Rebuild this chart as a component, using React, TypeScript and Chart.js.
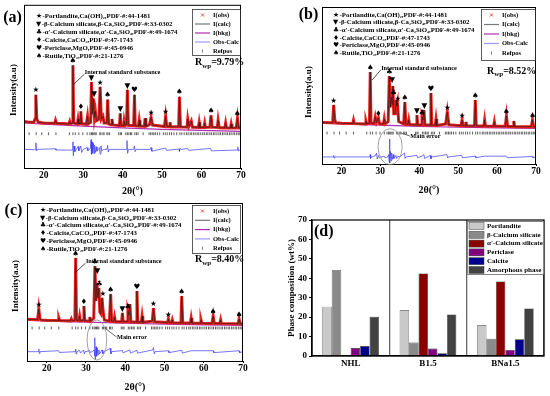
import React, { useEffect, useRef } from 'react';
import { Chart, registerables } from 'chart.js';
Chart.register(...registerables);

const SERIF = "'Liberation Serif', 'Times New Roman', serif";
const SYM = "'DejaVu Sans', sans-serif";

// ---------- shared XRD data ----------
const xTicks = [20, 30, 40, 50, 60, 70];
const phaseSymbols = ['★', '▼', '♣', '♦', '♥', '♠'];
const phaseLines = [
  '-Portlandite,Ca(OH)₂,PDF-#:44-1481',
  '-β-Calcium silicate,β-Ca₂SiO₄,PDF-#:33-0302',
  "-α'-Calcium silicate,α'-Ca₂SiO₄,PDF-#:49-1674",
  '-Calcite,CaCO₃,PDF-#:47-1743',
  '-Periclase,MgO,PDF-#:45-0946',
  '-Rutile,TiO₂,PDF-#:21-1276',
];
const xrdLegend = ['I(obs)', 'I(calc)', 'I(bkg)', 'Obs-Calc', 'Refpos'];
const refpos = [16.3, 18.1, 19.5, 21.2, 23.1, 26.5, 27.4, 28.0, 28.9, 29.9, 31.0, 31.7, 32.1, 32.4, 32.7, 33.0, 33.3, 34.2, 34.5, 35.0, 35.3, 36.0, 36.3, 36.7, 39.0, 39.4, 39.7, 40.8, 41.2, 41.6, 42.0, 42.3, 43.1, 43.5, 43.9, 45.2, 46.7, 47.1, 47.5, 47.9, 48.3, 48.8, 49.4, 50.3, 50.8, 51.3, 51.9, 52.4, 53.0, 53.7, 54.5, 55.0, 55.6, 56.2, 56.6, 57.1, 57.5, 58.0, 58.4, 58.9, 59.3, 59.8, 60.3, 60.7, 61.2, 61.6, 62.1, 62.5, 63.0, 63.4, 63.9, 64.4, 64.8, 65.3, 65.7, 66.2, 66.6, 67.1, 67.5, 68.0, 68.4, 68.9, 69.3, 69.7];

// ---------- panel (a) ----------
const obsA: [number, number][] = [[15, 28.5], [16, 28.2], [17.5, 28.0], [17.8, 30], [18.0, 44.9], [18.25, 30], [18.6, 28], [20, 27.6], [22.8, 27.4], [23.0, 29.3], [23.3, 27.3], [25, 27.2], [26.4, 27], [26.6, 28.5], [26.8, 27], [27.2, 27.5], [27.4, 62.9], [27.6, 27.5], [28.5, 27], [28.7, 30], [28.9, 27], [29.2, 27.3], [29.4, 34.7], [29.6, 27.2], [30.8, 26.8], [31.1, 31.7], [31.3, 27], [31.9, 28], [32.1, 52.7], [32.35, 33], [32.6, 42.5], [32.85, 31], [33.1, 34.7], [33.35, 29], [34.0, 30], [34.3, 49.7], [34.6, 30], [35.0, 31.7], [35.3, 27.5], [36.0, 27.5], [36.2, 41.9], [36.45, 27], [37.1, 26.5], [37.3, 30], [37.5, 26.4], [39.2, 26], [39.4, 33.5], [39.6, 26], [40.3, 26], [40.4, 28.7], [40.6, 26], [41.0, 26.5], [41.2, 47.9], [41.45, 26.2], [42.8, 26], [43.0, 44.9], [43.2, 25.8], [44.0, 25.7], [44.2, 29.3], [44.4, 25.7], [45.5, 25.6], [45.7, 30.5], [45.9, 25.6], [46.8, 26.5], [47.2, 31], [47.6, 26.3], [50.6, 25.4], [50.9, 31.7], [51.2, 25.4], [51.8, 25.3], [52.0, 28], [52.2, 25.2], [54.2, 25.3], [54.4, 43.7], [54.65, 25.2], [56.3, 25], [56.5, 30], [56.8, 25.5], [57.4, 28.7], [57.7, 25], [59.2, 24.9], [59.4, 28], [59.6, 24.9], [60.6, 24.8], [60.8, 27.5], [61.0, 24.8], [62.1, 25], [62.4, 32.3], [62.7, 25], [64.0, 24.8], [64.2, 29.3], [64.5, 24.7], [65.9, 24.6], [66.1, 27.5], [66.3, 24.6], [67.3, 24.5], [67.5, 27], [67.7, 24.5], [68.8, 24.6], [69.1, 30.5], [69.4, 24.5], [70, 24.5]];
const bkgA: [number, number][] = [[15, 27.6], [20, 26.8], [30, 25.6], [40, 24.6], [50, 23.7], [60, 23.0], [70, 22.4]];
const diffA: [number, number][] = [[15, 11.4], [17.8, 11.2], [18.0, 15.4], [18.2, 10.5], [18.4, 11.4], [23, 11.8], [23.1, 11], [27.2, 11], [27.4, 16], [27.5, 7.5], [27.7, 13.5], [27.9, 10], [28.3, 11.5], [28.7, 13.2], [28.9, 10.5], [29.4, 13.5], [29.6, 9.5], [30, 11.4], [31, 12.5], [31.2, 10.5], [31.8, 12], [32.0, 17.4], [32.1, 8.4], [32.25, 16], [32.4, 9], [32.6, 15], [32.75, 8.8], [32.9, 14], [33.1, 9.5], [33.3, 13], [33.5, 10.3], [34.1, 12.5], [34.3, 8.5], [34.5, 13.5], [34.7, 10.5], [35.2, 11.4], [36.0, 11.4], [36.2, 13.8], [36.35, 9.8], [36.6, 11.4], [40.9, 11.4], [41.1, 16.8], [41.25, 9], [41.5, 11.4], [42.8, 11.4], [43.0, 13.5], [43.15, 10], [43.4, 11.4], [47.0, 11.4], [47.2, 12.5], [47.4, 10.3], [50.9, 12.2], [51.1, 10.8], [54.3, 11.6], [54.4, 10.2], [54.55, 12.1], [54.8, 11.4], [56.5, 12], [56.7, 10.8], [62.3, 12], [62.5, 10.5], [69.0, 11], [69.2, 12.8], [69.35, 10.5], [70, 11.4]];
const markersA: [number, number, number][] = [[0, 18.0, 44.9], [5, 27.4, 62.9], [3, 29.4, 34.7], [1, 32.1, 52.7], [1, 32.8, 42.5], [0, 34.3, 49.7], [5, 36.2, 41.9], [1, 39.4, 33.5], [1, 41.2, 47.9], [4, 43.0, 44.9], [0, 47.2, 31], [0, 50.9, 31.7], [5, 54.4, 43.7], [5, 62.4, 32.3], [5, 69.1, 30.5]];

// ---------- panel (b) ----------
const obsB: [number, number][] = [[15, 26.4], [17.6, 26.2], [17.8, 29], [18.0, 37.6], [18.25, 29], [18.5, 26.2], [20, 25.9], [22.9, 25.8], [23.1, 28], [23.3, 25.8], [26.1, 25.5], [26.3, 27.4], [26.5, 25.5], [27.2, 26], [27.4, 58.6], [27.6, 26], [28.4, 25.8], [28.7, 30], [29.0, 26.5], [29.5, 29.3], [29.8, 25.6], [30.8, 25.5], [31.0, 28.7], [31.2, 25.5], [32.0, 27], [32.3, 56], [32.55, 36], [32.8, 42.7], [33.0, 38], [33.2, 49.7], [33.45, 32], [33.8, 32], [34.1, 40.8], [34.25, 37], [34.4, 38.9], [34.7, 27], [36.0, 25.5], [36.3, 39.5], [36.55, 25.3], [37.1, 25.2], [37.3, 28], [37.5, 25.1], [39.2, 25], [39.4, 31.2], [39.6, 24.9], [40.5, 25], [40.7, 30], [40.95, 28], [41.2, 34.4], [41.45, 25], [42.8, 24.8], [43.0, 45.2], [43.2, 24.8], [44.1, 24.7], [44.3, 28.7], [44.5, 24.6], [46.8, 25.5], [47.2, 33.1], [47.6, 25], [50.7, 24.4], [51.0, 28], [51.3, 24.3], [51.8, 24.3], [52.0, 26.8], [52.2, 24.3], [54.2, 24.2], [54.4, 40.8], [54.65, 24.2], [56.6, 24.2], [56.8, 28], [57.0, 24.2], [59.1, 24], [59.3, 26.8], [59.5, 24], [62.1, 24], [62.4, 30.6], [62.7, 23.9], [64.1, 23.9], [64.3, 27.4], [64.5, 23.8], [68.8, 23.8], [69.1, 28], [69.4, 23.7], [70, 23.7]];
const bkgB: [number, number][] = [[15, 26.0], [20, 25.5], [30, 24.8], [40, 24.0], [50, 23.4], [60, 23.0], [70, 22.7]];
const diffB: [number, number][] = [[15, 4.5], [17.9, 4.5], [18.0, 5.5], [18.15, 3.8], [18.3, 4.5], [27.3, 4.5], [27.4, 6], [27.5, 3.5], [27.7, 4.5], [28.7, 5.2], [29.0, 7], [29.2, 3.2], [29.5, 5.5], [29.7, 4], [31.0, 5], [31.2, 4], [31.9, 4.5], [32.1, 6], [32.25, 2], [32.35, 15.9], [32.45, 0.6], [32.6, 8], [32.75, 2], [32.9, 7], [33.1, 3], [33.3, 6], [33.5, 3.5], [34.0, 5.5], [34.2, 3.5], [34.5, 5], [35, 4.5], [36.2, 7], [36.35, 3.5], [36.6, 4.5], [39.4, 5.5], [39.55, 4], [40.7, 5], [41.2, 6], [41.35, 3.6], [42.9, 5.5], [43.0, 3.2], [43.15, 5], [43.3, 4.5], [47.1, 6], [47.3, 3.8], [47.5, 4.5], [50.9, 5.5], [51.1, 4], [54.4, 5], [54.55, 4], [56.8, 5], [62.4, 5], [62.6, 4], [69, 4.8], [69.2, 4], [70, 4.5]];
const markersB: [number, number, number][] = [[0, 18.0, 37.6], [5, 27.4, 58.6], [3, 29.5, 29.3], [2, 32.3, 56], [1, 33.0, 51], [2, 33.4, 42.5], [0, 34.5, 38.9], [5, 36.3, 39.5], [1, 39.4, 31.2], [2, 40.7, 30], [1, 41.3, 34.4], [4, 43.0, 45.2], [0, 47.2, 33.1], [0, 51.0, 28], [5, 54.4, 40.8], [5, 62.4, 30.6], [5, 69.1, 28]];

// ---------- panel (c) ----------
const obsC: [number, number][] = [[15, 26.4], [17.7, 26.2], [18.0, 32.9], [18.3, 26.5], [18.6, 26], [20, 25.8], [22.9, 25.6], [23.1, 27.2], [23.3, 25.6], [26.1, 25.4], [26.3, 26.6], [26.5, 25.4], [27.2, 25.8], [27.4, 65.2], [27.6, 25.8], [28.2, 25.5], [28.4, 28.5], [28.6, 25.5], [29.3, 25.8], [29.5, 34.8], [29.7, 25.5], [30.8, 25.3], [31.0, 27.8], [31.2, 25.3], [32.0, 27], [32.3, 60.1], [32.55, 38], [32.8, 49.4], [33.05, 40], [33.3, 46.2], [33.55, 31], [33.8, 30], [34.1, 39.9], [34.4, 31], [34.7, 26], [36.0, 25.2], [36.3, 42.4], [36.55, 25.1], [37.1, 25], [37.3, 27.8], [37.5, 24.9], [39.1, 24.9], [39.3, 30.4], [39.5, 24.8], [40.5, 25], [40.7, 31.6], [40.95, 29], [41.2, 36], [41.45, 24.8], [42.8, 24.7], [43.0, 44.3], [43.2, 24.6], [44.1, 24.6], [44.3, 28.5], [44.5, 24.5], [46.9, 25.2], [47.2, 33.5], [47.5, 24.8], [50.8, 24.3], [51.0, 26.6], [51.2, 24.3], [51.8, 24.2], [52.0, 26], [52.2, 24.2], [54.2, 24.1], [54.4, 41.1], [54.65, 24], [56.6, 24], [56.8, 27.2], [57.0, 24], [59.1, 23.9], [59.3, 26], [59.5, 23.9], [62.1, 23.8], [62.4, 28.5], [62.7, 23.8], [64.1, 23.7], [64.3, 26], [64.5, 23.7], [68.8, 23.6], [69.0, 26.6], [69.3, 23.5], [70, 23.5]];
const bkgC: [number, number][] = [[15, 25.8], [20, 25.3], [30, 24.6], [40, 23.9], [50, 23.3], [60, 22.9], [70, 22.6]];
const diffC: [number, number][] = [[15, 5.9], [17.9, 5.9], [18.0, 7.5], [18.15, 4.8], [18.3, 5.9], [23.1, 6.5], [23.25, 5.4], [27.3, 5.9], [27.4, 7.5], [27.5, 4.5], [27.7, 5.9], [28.4, 6.8], [28.6, 5], [29.4, 7], [29.6, 4.5], [29.8, 5.9], [31, 6.5], [31.2, 5.3], [32.1, 7], [32.2, 3], [32.3, 14.7], [32.4, 1], [32.6, 9], [32.75, 3], [32.9, 8], [33.1, 4], [33.3, 7], [33.5, 4.5], [34.1, 7], [34.3, 4.5], [34.6, 5.9], [36.2, 8], [36.35, 4.5], [36.6, 5.9], [39.3, 6.6], [39.45, 5.2], [41.2, 7], [41.35, 5], [43.0, 6.8], [43.15, 5], [47.0, 7], [47.2, 8.5], [47.4, 4.5], [47.6, 5.9], [51, 6.5], [51.15, 5.3], [54.4, 6.8], [54.55, 5], [56.8, 6.5], [62.4, 6.5], [62.55, 5.3], [69, 6.5], [69.15, 5.3], [70, 5.9]];
const markersC: [number, number, number][] = [[0, 18.0, 32.9], [5, 27.4, 65.2], [3, 29.5, 34.8], [2, 32.3, 60.1], [1, 32.9, 54], [2, 33.4, 46.2], [0, 34.3, 39.9], [5, 36.3, 42.4], [1, 39.3, 30.4], [2, 40.7, 31.6], [4, 43.0, 44.3], [0, 47.2, 33.5], [0, 51.0, 26.6], [5, 54.4, 41.1], [5, 62.4, 28.5], [5, 69.0, 26.6]];

// ---------- panel (d) ----------
const groups = ['NHL', 'B1.5', 'BNa1.5'];
const phaseNames = ['Portlandite', 'β-Calcium silicate', "α'-Calcium silicate", 'Periclase', 'Calcite', 'Amorphous phase'];
const portlandite = [25.4, 23.5, 15.8];
const betaC2S = [44.3, 6.9, 8.9];
const alphaC2S = [0, 42.5, 38.4];
const periclase = [4.1, 3.8, 3.1];
const calcite = [5.1, 1.4, 8.6];
const amorphous = [20.2, 21.4, 24.5];
const phaseColors = ['#c9c9c9', '#8a8a8a', '#8b0000', '#800080', '#00008b', '#424242'];

const RED = '#e8201e';
const CALC = '#1a1a1a';
const BKG = '#b02cb0';
const DIFF = '#3b3bf5';

type Pt = [number, number];
interface XrdPanel {
  letter: string; obs: Pt[]; bkg: Pt[]; diff: Pt[]; refLevel: number;
  markers: [number, number, number][]; rwp: string;
  pad: { left: number; right: number; top: number }; xh: number;
  w: number; h: number;
  letterPos: Pt; listPos: [number, number, number]; legBox: [number, number, number, number]; legDy: number;
  rwpPos: Pt; yTitle: Pt;
  std: { x: number; y: number; line: [number, number, number, number] };
  err?: { cx: number; cy: number; rx: number; ry: number; tx: number; ty: number; line: [number, number, number, number] };
}

function xrdPlugin(p: XrdPanel) {
  return {
    id: 'deco' + p.letter,
    afterDraw(chart: any) {
      const { ctx, chartArea: ca, scales } = chart;
      const xs = scales.x, ys = scales.y;
      const X = (v: number) => xs.getPixelForValue(v);
      const Y = (v: number) => ys.getPixelForValue(v);
      ctx.save();
      ctx.strokeStyle = '#000'; ctx.lineWidth = 1;
      ctx.strokeRect(ca.left + 0.5, ca.top + 0.5, ca.right - ca.left - 1, ca.bottom - ca.top);
      ctx.fillStyle = '#000';
      // markers
      ctx.font = `7.5px ${SYM}`; ctx.textAlign = 'center'; ctx.textBaseline = 'bottom';
      for (const [s, t, v] of p.markers) ctx.fillText(phaseSymbols[s], X(t), Y(v) - 0.5);
      // phase list
      ctx.textAlign = 'left'; ctx.textBaseline = 'middle';
      phaseLines.forEach((ln, i) => {
        const y = p.listPos[1] + i * p.listPos[2];
        ctx.font = `6.8px ${SYM}`;
        ctx.fillText(phaseSymbols[i], p.listPos[0], y);
        const sw = ctx.measureText(phaseSymbols[i]).width;
        ctx.font = `bold 6.8px ${SERIF}`;
        ctx.fillText(ln, p.listPos[0] + sw + 0.5, y);
      });
      // legend box
      const [lx, ly, lw, lh] = p.legBox;
      ctx.fillStyle = '#fff'; ctx.fillRect(lx, ly, lw, lh);
      ctx.strokeStyle = '#333'; ctx.lineWidth = 0.8; ctx.strokeRect(lx + 0.5, ly + 0.5, lw, lh);
      const sx0 = lx + 3, sx1 = lx + 18, tx = lx + 21;
      xrdLegend.forEach((lab, i) => {
        const y = ly + 6 + i * p.legDy;
        const cx = (sx0 + sx1) / 2;
        if (i === 0) {
          ctx.strokeStyle = RED; ctx.lineWidth = 0.8;
          ctx.beginPath(); ctx.moveTo(cx - 1.5, y - 1.5); ctx.lineTo(cx + 1.5, y + 1.5); ctx.moveTo(cx + 1.5, y - 1.5); ctx.lineTo(cx - 1.5, y + 1.5); ctx.stroke();
        } else if (i === 4) {
          ctx.strokeStyle = '#555'; ctx.lineWidth = 0.8;
          ctx.beginPath(); ctx.moveTo(cx, y - 1.5); ctx.lineTo(cx, y + 1.5); ctx.stroke();
        } else {
          ctx.strokeStyle = i === 1 ? '#777' : i === 2 ? BKG : '#9a9af5'; ctx.lineWidth = 1.2;
          ctx.beginPath(); ctx.moveTo(sx0, y); ctx.lineTo(sx1, y); ctx.stroke();
        }
        ctx.fillStyle = '#000'; ctx.font = `bold 6.5px ${SERIF}`; ctx.textAlign = 'left'; ctx.textBaseline = 'middle';
        ctx.fillText(lab, tx, y);
      });
      // Rwp
      ctx.fillStyle = '#000'; ctx.textBaseline = 'alphabetic'; ctx.textAlign = 'left';
      let rx = p.rwpPos[0];
      ctx.font = `bold 10px ${SERIF}`; ctx.fillText('R', rx, p.rwpPos[1]); rx += ctx.measureText('R').width;
      ctx.font = `bold 7px ${SERIF}`; ctx.fillText('wp', rx, p.rwpPos[1] + 2.5); rx += ctx.measureText('wp').width;
      ctx.font = `bold 10px ${SERIF}`; ctx.fillText('=' + p.rwp, rx, p.rwpPos[1]);
      // internal standard
      ctx.strokeStyle = '#000'; ctx.lineWidth = 0.7;
      ctx.beginPath(); ctx.moveTo(X(p.std.line[0]), Y(p.std.line[1])); ctx.lineTo(X(p.std.line[2]), Y(p.std.line[3])); ctx.stroke();
      ctx.font = `bold 6.3px ${SERIF}`; ctx.textBaseline = 'middle';
      ctx.fillText('Internal standard substance', X(p.std.x), Y(p.std.y));
      // main error
      if (p.err) {
        const e = p.err;
        ctx.strokeStyle = '#8a8a8a'; ctx.lineWidth = 0.8;
        ctx.beginPath();
        ctx.ellipse(X(e.cx), Y(e.cy), X(e.cx + e.rx) - X(e.cx), Y(e.cy) - Y(e.cy + e.ry), 0, 0, Math.PI * 2);
        ctx.stroke();
        ctx.strokeStyle = '#444';
        ctx.beginPath(); ctx.moveTo(X(e.line[0]), Y(e.line[1])); ctx.lineTo(X(e.line[2]), Y(e.line[3])); ctx.stroke();
        ctx.fillStyle = '#000'; ctx.font = `bold 6.3px ${SERIF}`;
        ctx.fillText('Main error', X(e.tx), Y(e.ty));
      }
      // y title
      ctx.save();
      ctx.translate(p.yTitle[0], p.yTitle[1]); ctx.rotate(-Math.PI / 2);
      ctx.font = `bold 9px ${SERIF}`; ctx.textAlign = 'center'; ctx.textBaseline = 'middle';
      ctx.fillText('Intensity(a.u)', 0, 0);
      ctx.restore();
      // panel letter
      ctx.font = `bold 16px ${SERIF}`; ctx.textAlign = 'center'; ctx.textBaseline = 'middle';
      ctx.fillText(p.letter, p.letterPos[0], p.letterPos[1]);
      ctx.restore();
    },
  };
}

function xrdConfig(p: XrdPanel): any {
  const toXY = (a: Pt[]) => a.map(([x, y]) => ({ x, y }));
  return {
    type: 'scatter',
    data: {
      datasets: [
        { label: 'I(obs)', data: toXY(p.obs), showLine: true, pointRadius: 0, borderColor: RED, borderWidth: 3, order: 3 },
        { label: 'I(calc)', data: toXY(p.obs), showLine: true, pointRadius: 0, borderColor: CALC, borderWidth: 0.6, order: 2 },
        { label: 'I(bkg)', data: toXY(p.bkg), showLine: true, pointRadius: 0, borderColor: BKG, borderWidth: 1.2, order: 4 },
        { label: 'Obs-Calc', data: toXY(p.diff), showLine: true, pointRadius: 0, borderColor: DIFF, borderWidth: 0.7, order: 1 },
        { label: 'Refpos', data: refpos.map((t) => ({ x: t, y: p.refLevel })), showLine: false, pointStyle: 'line', rotation: 90, pointRadius: 1.4, borderColor: '#333', borderWidth: 0.8, order: 0 },
      ],
    },
    options: {
      animation: false, responsive: false, events: [],
      layout: { padding: { left: p.pad.left, right: p.pad.right, top: p.pad.top, bottom: 0 } },
      plugins: { legend: { display: false }, tooltip: { enabled: false } },
      scales: {
        x: {
          type: 'linear', min: 15, max: 70,
          afterBuildTicks: (s: any) => { s.ticks = xTicks.map((v) => ({ value: v })); },
          afterFit: (s: any) => { s.height = p.xh; },
          grid: { drawOnChartArea: false, drawTicks: true, tickLength: 2, color: '#000' },
          border: { display: true, color: '#000', width: 1 },
          ticks: { font: { family: SERIF, size: 9.5, weight: 'bold' }, color: '#000', padding: 0, maxRotation: 0 },
          title: { display: true, text: '2θ(°)', font: { family: SERIF, size: 10, weight: 'bold' }, color: '#000', padding: { top: 0, bottom: 0 } },
        },
        y: { display: false, min: 0, max: 100 },
      },
    },
    plugins: [xrdPlugin(p)],
  };
}

const panelA: XrdPanel = {
  letter: '(a)', obs: obsA, bkg: bkgA, diff: diffA, refLevel: 21, markers: markersA, rwp: '9.79%',
  pad: { left: 24, right: 9, top: 1 }, xh: 29, w: 250, h: 197,
  letterPos: [12.5, 18], listPos: [36, 16, 8.1], legBox: [192, 9, 48, 46], legDy: 9,
  rwpPos: [195, 65], yTitle: [14, 90],
  std: { x: 30.4, y: 58.7, line: [30.3, 57.5, 27.7, 51.5] },
};
const panelB: XrdPanel = {
  letter: '(b)', obs: obsB, bkg: bkgB, diff: diffB, refLevel: 19.7, markers: markersB, rwp: '8.52%',
  pad: { left: 47, right: 14, top: 7 }, xh: 32, w: 275, h: 196,
  letterPos: [33.5, 15], listPos: [58, 15, 7.65], legBox: [206, 9, 54, 51], legDy: 9.5,
  rwpPos: [212, 73.5], yTitle: [34, 92],
  std: { x: 30.2, y: 61.1, line: [30.1, 59.9, 27.9, 53.5] },
  err: { cx: 32.5, cy: 11, rx: 3.1, ry: 11.5, tx: 37.7, ty: 17.8, line: [35.4, 19.7, 37.6, 17.8] },
};
const panelC: XrdPanel = {
  letter: '(c)', obs: obsC, bkg: bkgC, diff: diffC, refLevel: 20.9, markers: markersC, rwp: '8.40%',
  pad: { left: 27, right: 7, top: 7 }, xh: 32, w: 250, h: 197,
  letterPos: [13.5, 15], listPos: [40, 14, 7.8], legBox: [192, 9, 48, 48], legDy: 9.3,
  rwpPos: [195, 66], yTitle: [16, 90],
  std: { x: 30.0, y: 63.3, line: [29.9, 62, 27.2, 55.7] },
  err: { cx: 32.8, cy: 13.3, rx: 2.5, ry: 12.7, tx: 37.9, ty: 14.7, line: [35.1, 20.3, 37.8, 15.2] },
};

const barPlugin = {
  id: 'decoD',
  afterDraw(chart: any) {
    const { ctx, chartArea: ca } = chart;
    ctx.save();
    ctx.strokeStyle = '#000'; ctx.lineWidth = 1.2;
    ctx.strokeRect(ca.left, ca.top, ca.right - ca.left, ca.bottom - ca.top);
    // legend
    const lw = 77, lh = 53, lx = ca.right - lw, ly = ca.top + 1;
    ctx.fillStyle = '#fff'; ctx.fillRect(lx, ly, lw, lh);
    ctx.strokeStyle = '#666'; ctx.lineWidth = 0.8; ctx.strokeRect(lx + 0.5, ly + 0.5, lw - 1, lh);
    phaseNames.forEach((n, i) => {
      const y = ly + 5 + i * 8.8;
      ctx.fillStyle = phaseColors[i]; ctx.fillRect(lx + 2, y - 3.5, 15, 7);
      ctx.strokeStyle = '#444'; ctx.lineWidth = 0.5; ctx.strokeRect(lx + 2, y - 3.5, 15, 7);
      ctx.fillStyle = '#000'; ctx.font = `bold 7px ${SERIF}`; ctx.textAlign = 'left'; ctx.textBaseline = 'middle';
      ctx.fillText(n, lx + 20, y, 56);
    });
    ctx.font = `bold 16px ${SERIF}`; ctx.textAlign = 'left'; ctx.textBaseline = 'middle';
    ctx.fillText('(d)', ca.left + 2, ca.top + 12);
    ctx.restore();
  },
};

const barConfig: any = {
  type: 'bar',
  data: {
    labels: groups,
    datasets: [portlandite, betaC2S, alphaC2S, periclase, calcite, amorphous].map((d, i) => ({
      label: phaseNames[i], data: d, backgroundColor: phaseColors[i], borderColor: '#333', borderWidth: 0.6,
      barPercentage: 1, categoryPercentage: 0.733,
    })),
  },
  options: {
    animation: false, responsive: false, events: [],
    layout: { padding: { left: 0, right: 6, top: 20, bottom: 0 } },
    plugins: { legend: { display: false }, tooltip: { enabled: false } },
    scales: {
      x: {
        afterFit: (s: any) => { s.height = 40; },
        grid: { display: true, drawOnChartArea: true, drawTicks: false, color: '#666', lineWidth: 1.3, offset: true },
        border: { display: true, color: '#000', width: 1.2 },
        ticks: { font: { family: SERIF, size: 9, weight: 'bold' }, color: '#000', padding: 2 },
      },
      y: {
        min: 0, max: 70,
        afterFit: (s: any) => { s.width = 32; },
        ticks: { stepSize: 10, font: { family: SERIF, size: 9, weight: 'bold' }, color: '#000', padding: 2 },
        grid: { drawOnChartArea: false, drawTicks: true, tickLength: 3, color: '#000' },
        border: { display: true, color: '#000', width: 1.2 },
        title: { display: true, text: 'Phase composition (wt%)', font: { family: SERIF, size: 9, weight: 'bold' }, color: '#000', padding: { top: 6, bottom: 0 } },
      },
    },
  },
  plugins: [barPlugin],
};

function ChartBox({ left, top, w, h, config }: { left: number; top: number; w: number; h: number; config: any }) {
  const ref = useRef<HTMLCanvasElement>(null);
  useEffect(() => {
    const c = new Chart(ref.current!, config);
    return () => c.destroy();
  }, []);
  return (
    <div style={{ position: 'absolute', left, top, width: w, height: h }}>
      <canvas ref={ref} width={w} height={h} style={{ width: w, height: h, display: 'block' }} />
    </div>
  );
}

export default function App() {
  return (
    <div style={{ position: 'absolute', left: 0, top: 0, width: 550, height: 396, background: '#fff', overflow: 'hidden' }}>
      <ChartBox left={0} top={0} w={panelA.w} h={panelA.h} config={xrdConfig(panelA)} />
      <ChartBox left={275} top={0} w={panelB.w} h={panelB.h} config={xrdConfig(panelB)} />
      <ChartBox left={0} top={196} w={panelC.w} h={panelC.h} config={xrdConfig(panelC)} />
      <ChartBox left={280} top={200} w={270} h={196} config={barConfig} />
    </div>
  );
}
